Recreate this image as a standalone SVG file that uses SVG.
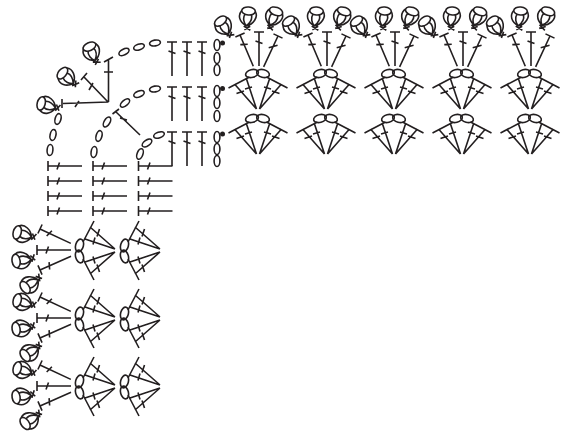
<svg xmlns="http://www.w3.org/2000/svg" width="565" height="436" viewBox="0 0 565 436">
<style>
.s{fill:none;stroke:#231f20;stroke-width:1.6}
.d{fill:#231f20}
</style>
<defs>
<ellipse id="ch" class="s" rx="2.900" ry="5.500"/>
<path id="dc" class="s" d="M-5 0H5M0 0V34M-3.500 9L3.500 11.500"/>
<path id="dr" class="s" d="M-5 0H5M0 0V34M-3.500 14.500L3.500 8.500"/>
<g id="rose" class="s">
<ellipse cx="0" cy="-6" rx="6.800" ry="4"/>
<path d="M-6.800 -6C-10.500 -1-8.500 5.500-1 9C6 7 10.500 -1 6.800 -6M-3.200 -2.600C-5.500 1.500-3.500 6.500-1 9C2.300 6 4.700 1.500 3.200 -2.600M-3.500 9.500L3.500 13M3 9L-2.500 13"/>
</g>
<g id="fan" class="s">
<ellipse cx="-5.500" cy="-0.500" rx="6.500" ry="3.900" transform="rotate(-15 -5.500 -0.500)"/>
<ellipse cx="5.500" cy="-0.500" rx="6.500" ry="3.900" transform="rotate(15 5.500 -0.500)"/>
<path d="M-1 35L-23 10M-1 35L-11 5M-29 14L-8 3M-21 19.500L-13.500 17M-12.500 15L-5.500 13M2 35L24 10M2 35L12 5M30 14L9 3M22 19.500L14.500 17M13.500 15L6.500 13"/>
</g>
<g id="top">
<use href="#rose" transform="translate(224 26) rotate(-35)"/>
<use href="#rose" transform="translate(248 17) rotate(5)"/>
<use href="#rose" transform="translate(274 17) rotate(20)"/>
<use href="#dc" transform="translate(240 35) rotate(-23)"/>
<use href="#dc" transform="translate(259 32)"/>
<use href="#dr" transform="translate(278 36) rotate(25)"/>
</g>
<g id="left">
<use href="#rose" transform="translate(23 234) rotate(-75)"/>
<use href="#rose" transform="translate(22 260) rotate(-100)"/>
<use href="#rose" transform="translate(30 284) rotate(-125)"/>
<use href="#dc" transform="translate(40 229) rotate(-65)"/>
<use href="#dc" transform="translate(37 250) rotate(-90)"/>
<use href="#dc" transform="translate(40 270) rotate(-114)"/>
<use href="#fan" transform="translate(80 251) rotate(-90)"/>
<use href="#fan" transform="translate(125 251) rotate(-90)"/>
</g>
</defs>
<g id="corner-row1">
<use href="#dc" x="172" y="42"/><use href="#dc" x="187" y="42"/><use href="#dc" x="202" y="42"/>
<use href="#ch" x="217" y="45"/><use href="#ch" x="217" y="58"/><use href="#ch" x="217" y="70"/>
<circle class="d" cx="222.500" cy="43" r="2.500"/>
<use href="#ch" transform="translate(155 43) rotate(80)"/>
<use href="#ch" transform="translate(139 47) rotate(72)"/>
<use href="#ch" transform="translate(124 52) rotate(62)"/>
<use href="#rose" transform="translate(92 52) rotate(-25)"/>
<use href="#rose" transform="translate(67 77) rotate(-50)"/>
<use href="#rose" transform="translate(47 105) rotate(-75)"/>
<path class="s" d="M108.500 102L63 103.500M62 99V108M108.500 102V60M104 62L113 57M104 72H113M108 102L84 77M81 80L87 73M93 83L89 90M75 107L79 101"/>
<use href="#ch" transform="translate(58 119) rotate(15)"/>
<use href="#ch" transform="translate(53 135) rotate(12)"/>
<use href="#ch" transform="translate(50 150) rotate(5)"/>
</g>
<g id="corner-row2">
<use href="#dc" x="172" y="87"/><use href="#dc" x="187" y="87"/><use href="#dc" x="202" y="87"/>
<use href="#ch" x="217" y="91"/><use href="#ch" x="217" y="103"/><use href="#ch" x="217" y="116"/>
<circle class="d" cx="222.500" cy="88.500" r="2.500"/>
<use href="#ch" transform="translate(155 89) rotate(80)"/>
<use href="#ch" transform="translate(139 94) rotate(68)"/>
<use href="#ch" transform="translate(125 103) rotate(50)"/>
<use href="#ch" transform="translate(107 122) rotate(30)"/>
<use href="#ch" transform="translate(99 136) rotate(15)"/>
<use href="#ch" transform="translate(94 152) rotate(8)"/>
<path class="s" d="M140 135L115 111M112.500 114L119 109M120 118L127 120"/>
</g>
<g id="corner-row3">
<use href="#dc" x="172" y="132"/><use href="#dc" x="187" y="132"/><use href="#dc" x="202" y="132"/>
<use href="#ch" x="217" y="137"/><use href="#ch" x="217" y="149"/><use href="#ch" x="217" y="161"/>
<circle class="d" cx="222.500" cy="134" r="2.500"/>
<use href="#ch" transform="translate(159 135) rotate(72)"/>
<use href="#ch" transform="translate(147 143) rotate(55)"/>
<use href="#ch" transform="translate(140 154) rotate(20)"/>
</g>
<g id="side-rows">
<use href="#dc" transform="translate(48 166) rotate(-90)"/><use href="#dc" transform="translate(48 181) rotate(-90)"/><use href="#dc" transform="translate(48 196) rotate(-90)"/><use href="#dc" transform="translate(48 211) rotate(-90)"/>
<use href="#dc" transform="translate(93 166) rotate(-90)"/><use href="#dc" transform="translate(93 181) rotate(-90)"/><use href="#dc" transform="translate(93 196) rotate(-90)"/><use href="#dc" transform="translate(93 211) rotate(-90)"/>
<use href="#dc" transform="translate(138.500 166) rotate(-90)"/><use href="#dc" transform="translate(138.500 181) rotate(-90)"/><use href="#dc" transform="translate(138.500 196) rotate(-90)"/><use href="#dc" transform="translate(138.500 211) rotate(-90)"/>
</g>
<g id="top-edge">
<use href="#top"/><use href="#top" x="68"/><use href="#top" x="136"/><use href="#top" x="204"/><use href="#top" x="272"/>
</g>
<g id="fans-row2">
<use href="#fan" x="257.500" y="74"/><use href="#fan" x="325.500" y="74"/><use href="#fan" x="393.500" y="74"/><use href="#fan" x="461.500" y="74"/><use href="#fan" x="529.500" y="74"/>
</g>
<g id="fans-row3">
<use href="#fan" x="257.500" y="119"/><use href="#fan" x="325.500" y="119"/><use href="#fan" x="393.500" y="119"/><use href="#fan" x="461.500" y="119"/><use href="#fan" x="529.500" y="119"/>
</g>
<g id="left-edge">
<use href="#left"/><use href="#left" y="68"/><use href="#left" y="136"/>
</g>
</svg>
